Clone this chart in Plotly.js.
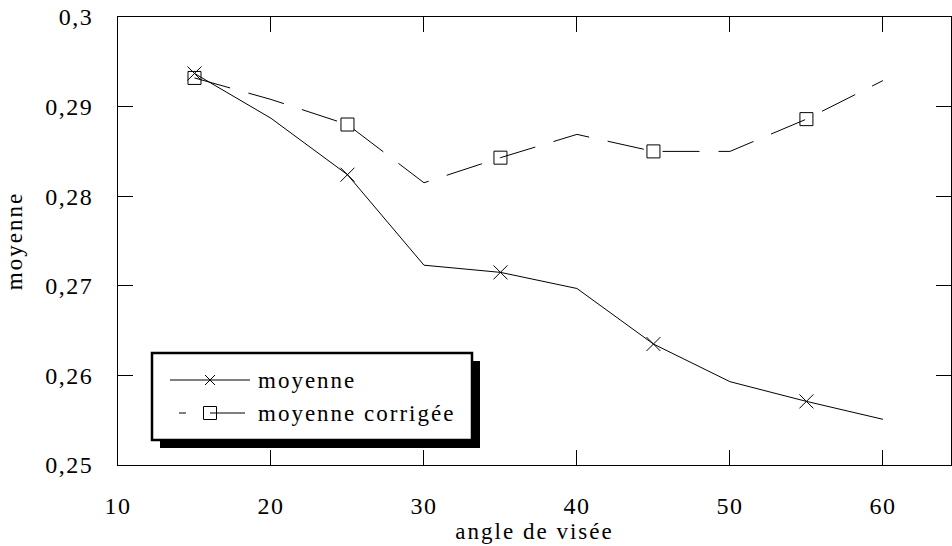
<!DOCTYPE html>
<html>
<head>
<meta charset="utf-8">
<script src="https://cdn.plot.ly/plotly-3.0.1.min.js"></script>
<style>
html,body{margin:0;padding:0;background:#fff;}
#chart{width:952px;height:546px;}
svg text{letter-spacing:2px;}
svg .xtick text, svg .ytick text{letter-spacing:1.5px;}
</style>
</head>
<body>
<div id="chart"></div>
<script>
// ---- data ----
const angles = [15, 20, 25, 30, 35, 40, 45, 50, 55, 60];
const moyenne = [0.2937, 0.2887, 0.2824, 0.2723, 0.2715, 0.2697, 0.2635, 0.2593, 0.2571, 0.2551];
const moyenneCorrigee = [0.2932, 0.2908, 0.2880, 0.2815, 0.2843, 0.2869, 0.2850, 0.2850, 0.2886, 0.2929];
const seriesNames = ["moyenne", "moyenne corrigée"];
const xTitle = "angle de visée";
const yTitle = "moyenne";

// markers are shown on every other point
const markIdx = angles.map((a, i) => i).filter(i => i % 2 === 0);
const pick = (arr) => markIdx.map(i => arr[i]);

const FONT = "Liberation Serif";
const W = 952, H = 546;
const M = {l: 118, r: 1, t: 17, b: 81};
const PW = W - M.l - M.r, PH = H - M.t - M.b;
const px = (x) => (x - M.l) / PW;
const py = (y) => (H - M.b - y) / PH;

const traces = [
  {x: angles, y: moyenne, mode: "lines", line: {color: "#000", width: 1}, hoverinfo: "skip", showlegend: false},
  {x: pick(angles), y: pick(moyenne), mode: "markers", marker: {symbol: "x-thin-open", size: 14, color: "#000", line: {color: "#000", width: 1}}, showlegend: false},
  {x: angles, y: moyenneCorrigee, mode: "lines", line: {color: "#000", width: 1, dash: "37px,19px"}, hoverinfo: "skip", showlegend: false},
  {x: pick(angles), y: pick(moyenneCorrigee), mode: "markers", marker: {symbol: "square-open", size: 13, color: "#000", line: {color: "#000", width: 1}}, showlegend: false}
];

// custom legend (box with drop shadow)
const L = {x0: 152, x1: 472, y0: 353, y1: 440, sh: 8};
const row1 = 380, row2 = 413, symX = 210;
const shapes = [
  {type: "rect", xref: "paper", yref: "paper", x0: px(L.x0 + L.sh), x1: px(L.x1 + L.sh), y0: py(L.y0 + L.sh), y1: py(L.y1 + L.sh), fillcolor: "#000", line: {width: 0}},
  {type: "rect", xref: "paper", yref: "paper", x0: px(L.x0), x1: px(L.x1), y0: py(L.y0), y1: py(L.y1), fillcolor: "#fff", line: {color: "#000", width: 2.5}},
  {type: "line", xref: "paper", yref: "paper", x0: px(170), x1: px(250), y0: py(row1), y1: py(row1), line: {color: "#000", width: 1}},
  {type: "line", xref: "paper", yref: "paper", x0: px(symX - 5), x1: px(symX + 5), y0: py(row1 - 5), y1: py(row1 + 5), line: {color: "#000", width: 1}},
  {type: "line", xref: "paper", yref: "paper", x0: px(symX - 5), x1: px(symX + 5), y0: py(row1 + 5), y1: py(row1 - 5), line: {color: "#000", width: 1}},
  {type: "line", xref: "paper", yref: "paper", x0: px(179), x1: px(186), y0: py(row2), y1: py(row2), line: {color: "#000", width: 1}},
  {type: "line", xref: "paper", yref: "paper", x0: px(symX), x1: px(245), y0: py(row2), y1: py(row2), line: {color: "#000", width: 1}},
  {type: "rect", xref: "paper", yref: "paper", x0: px(symX - 6.5), x1: px(symX + 6.5), y0: py(row2 - 6.5), y1: py(row2 + 6.5), fillcolor: "rgba(0,0,0,0)", line: {color: "#000", width: 1}}
];
const annotations = [
  {xref: "paper", yref: "paper", x: px(257), y: py(row1), text: seriesNames[0], showarrow: false, xanchor: "left", yanchor: "middle", align: "left", borderpad: 0, font: {family: FONT, size: 23, color: "#000"}},
  {xref: "paper", yref: "paper", x: px(257), y: py(row2), text: seriesNames[1], showarrow: false, xanchor: "left", yanchor: "middle", align: "left", borderpad: 0, font: {family: FONT, size: 23, color: "#000"}}
];

const axisCommon = {
  showgrid: false, zeroline: false, showline: true, linecolor: "#000", linewidth: 1,
  mirror: "allticks", ticks: "inside", ticklen: 15, tickwidth: 1, tickcolor: "#000",
  tickfont: {family: FONT, size: 24, color: "#000"}
};

const layout = {
  width: W, height: H,
  margin: M,
  paper_bgcolor: "#fff", plot_bgcolor: "#fff",
  separators: ",.",
  font: {family: FONT, size: 23, color: "#000"},
  showlegend: false,
  xaxis: Object.assign({}, axisCommon, {
    range: [10, 64.45], dtick: 10, tick0: 0, ticklabelstandoff: 19,
    title: {text: xTitle, font: {family: FONT, size: 23, color: "#000"}, standoff: 1}
  }),
  yaxis: Object.assign({}, axisCommon, {
    range: [0.25, 0.3], dtick: 0.01, tick0: 0, ticklabelstandoff: 19,
    title: {text: yTitle, font: {family: FONT, size: 23, color: "#000"}, standoff: 16}
  }),
  shapes: shapes,
  annotations: annotations
};

Plotly.newPlot("chart", traces, layout, {staticPlot: true, displayModeBar: false});
</script>
</body>
</html>
